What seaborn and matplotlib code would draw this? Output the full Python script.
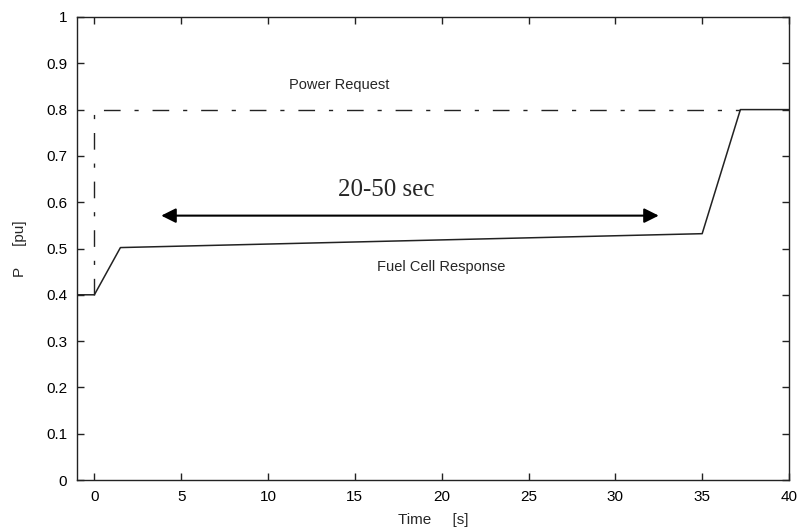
import numpy
import pandas
import matplotlib
matplotlib.use("Agg")
import matplotlib.pyplot as plt
import seaborn as sns

# valores
tempoCelula = [-1, 0, 1.5, 35, 37.2, 40]
respostaCelula = [0.4, 0.4, 0.502, 0.532, 0.8, 0.8]

tempoPedido = [0, 0, 37.2]
pedidoPotencia = [0.4, 0.8, 0.8]

xTicks = [0, 5, 10, 15, 20, 25, 30, 35, 40]
yTicks = [0, 0.1, 0.2, 0.3, 0.4, 0.5, 0.6, 0.7, 0.8, 0.9, 1]
yLabels = ["0", "0.1", "0.2", "0.3", "0.4", "0.5", "0.6", "0.7", "0.8", "0.9", "1"]

celula = pandas.DataFrame({"t": tempoCelula, "P": respostaCelula})
pedido = pandas.DataFrame({"t": tempoPedido, "P": pedidoPotencia})

sns.set_style("ticks")
plt.rcParams['font.family'] = ['Liberation Sans', 'DejaVu Sans']

fig = plt.figure(figsize=(8.01, 5.29), dpi=100)
ax = fig.add_axes([77 / 801, 1 - 480 / 529, (789 - 77) / 801, (480 - 17) / 529])

sns.lineplot(data=celula, x="t", y="P", ax=ax, color="#222222", linewidth=1.1,
             sort=False, estimator=None)
sns.lineplot(data=pedido, x="t", y="P", ax=ax, color="#222222", linewidth=1.0,
             sort=False, estimator=None, linestyle=(0, (12, 10, 3, 10)))

ax.annotate("", xy=(3.85, 0.571), xytext=(32.5, 0.571),
            arrowprops=dict(arrowstyle="<|-|>", color="black", lw=1.5, mutation_scale=22,
                            shrinkA=0, shrinkB=0))
ax.text(16.8, 0.626, "20-50 sec", family="Liberation Serif", fontsize=18, ha="center", va="center")
ax.text(14.1, 0.853, "Power Request", fontsize=10.5, ha="center", va="center")
ax.text(20, 0.46, "Fuel Cell Response", fontsize=10.5, ha="center", va="center")

ax.set_xlim(-1, 40)
ax.set_ylim(0, 1)
ax.set_xticks(xTicks)
ax.set_yticks(yTicks)
ax.set_yticklabels(yLabels)
ax.tick_params(direction="in", top=True, right=True, labelsize=11, length=5, width=1,
               colors="#222222", pad=7)
ax.tick_params(labelcolor="black")
for lado in ax.spines.values():
    lado.set_visible(True)
    lado.set_linewidth(1)
    lado.set_color("#222222")

ax.set_xlabel("Time     [s]", fontsize=11, labelpad=7)
ax.set_ylabel("P     [pu]", fontsize=11, labelpad=14)

fig.savefig("out.png", dpi=100)
